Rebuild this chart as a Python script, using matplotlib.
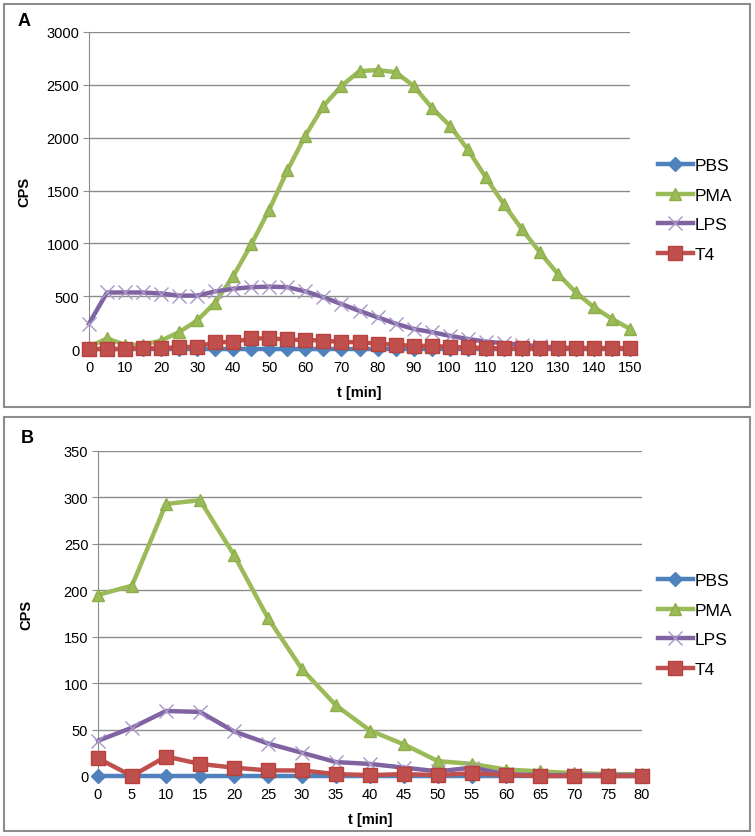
import numpy as np
import matplotlib.pyplot as plt
from matplotlib.patches import Rectangle

plt.rcParams['font.family'] = ['Liberation Sans', 'DejaVu Sans']

# panel A: 0..150 min, every 5 min
t_a = list(range(0, 155, 5))
pbs_a = [0] * 31
pma_a = [20, 100, 40, 40, 80, 160, 270, 440, 690, 990, 1320, 1690, 2020, 2300, 2490, 2630,
         2640, 2620, 2490, 2285, 2115, 1890, 1625, 1370, 1135, 915, 710, 535, 395, 285, 190]
lps_a = [240, 535, 535, 535, 525, 505, 505, 545, 570, 585, 590, 585, 545, 490, 425, 360,
         300, 240, 190, 160, 125, 95, 70, 55, 40, 25, 15, 10, 10, 8, 8]
t4_a = [0, 0, 0, 10, 5, 20, 20, 65, 65, 100, 100, 90, 85, 80, 65, 65,
        50, 40, 30, 30, 20, 15, 10, 5, 5, 5, 5, 5, 5, 5, 5]

# panel B: 0..80 min, every 5 min
t_b = list(range(0, 85, 5))
pbs_b = [0] * 17
pma_b = [195, 205, 293, 297, 238, 170, 115, 76, 49, 34, 16, 13, 7, 5, 3, 2, 2]
lps_b = [38, 52, 70, 69, 48, 35, 25, 15, 13, 9, 5, 9, 2, 1, 1, 1, 1]
t4_b = [19, 0, 21, 13, 9, 6, 6, 2, 1, 2, 1, 3, 1, 0, 0, 0, 0]

labels = ['PBS', 'PMA', 'LPS', 'T4']
colors = ['#4F81BD', '#9BBB59', '#8064A2', '#C0504D']

W, H = 755, 837
fig = plt.figure(figsize=(W / 100, H / 100), dpi=100)


def px_axes(x0, x1, ytop, ybot):
    return fig.add_axes([x0 / W, 1 - ybot / H, (x1 - x0) / W, (ybot - ytop) / H])


def draw_panel(ax, t, series, ymax, ystep, xstep, ylab_x):
    pbs, pma, lps, t4 = series
    ax.plot(t, pbs, color=colors[0], lw=3.2, marker='D', ms=7, mec=colors[0], clip_on=False, zorder=3)
    ax.plot(t, pma, color=colors[1], lw=3.2, marker='^', ms=8.5, mec='#8EAE4A', clip_on=False, zorder=4)
    ax.plot(t, lps, color=colors[2], lw=3.2, marker='x', ms=9.5, mew=1.0, mec='#A898C8', clip_on=False, zorder=5)
    ax.plot(t, t4, color=colors[3], lw=3.2, marker='s', ms=9.5, mec='#B8403D', clip_on=False, zorder=6)
    ax.set_xlim(t[0], t[-1])
    ax.set_ylim(0, ymax)
    ax.set_yticks(np.arange(0, ymax + 1, ystep))
    ax.set_xticks(np.arange(t[0], t[-1] + 1, xstep))
    ax.grid(axis='y', color='#8c8c8c', lw=1)
    ax.set_axisbelow(True)
    for s in ['top', 'right']:
        ax.spines[s].set_visible(False)
    for s in ['left', 'bottom']:
        ax.spines[s].set_color('#8c8c8c')
    ax.tick_params(axis='y', length=4, color='#8c8c8c', labelsize=10.5, pad=3)
    ax.tick_params(axis='x', length=0, labelsize=10.5, pad=8)
    ax.set_ylabel('CPS', fontsize=10.5, fontweight='bold')
    ax.yaxis.set_label_coords(ylab_x, 0.5)
    ax.set_xlabel('t [min]', fontsize=10.5, fontweight='bold', labelpad=8)
    ax.set_facecolor('none')


# panel frames
fig.patches.append(Rectangle((4 / W, 1 - 408 / H), 746 / W, 403 / H, transform=fig.transFigure,
                             fill=False, ec='#8c8c8c', lw=1.5))
fig.patches.append(Rectangle((4 / W, 1 - 832 / H), 746 / W, 414 / H, transform=fig.transFigure,
                             fill=False, ec='#8c8c8c', lw=1.5))

ax_a = px_axes(89, 630, 33, 350)
draw_panel(ax_a, t_a, [pbs_a, pma_a, lps_a, t4_a], 3000, 500, 10, (31 - 89) / 541)
ax_b = px_axes(98, 642, 452, 777)
draw_panel(ax_b, t_b, [pbs_b, pma_b, lps_b, t4_b], 350, 50, 5, (33 - 98) / 544)

fig.text(24 / W, 1 - 21 / H, 'A', fontsize=13, fontweight='bold', ha='center', va='center')
fig.text(27 / W, 1 - 439 / H, 'B', fontsize=13, fontweight='bold', ha='center', va='center')

for ax, yc in [(ax_a, 211), (ax_b, 626)]:
    ax.legend(labels, loc='center left', bbox_to_anchor=(658 / W, 1 - yc / H),
              bbox_transform=fig.transFigure, frameon=False, fontsize=12.5,
              handlelength=2.0, handletextpad=0.1, labelspacing=0.82, numpoints=1,
              borderpad=0, borderaxespad=0)

fig.savefig('out.png', dpi=100)
